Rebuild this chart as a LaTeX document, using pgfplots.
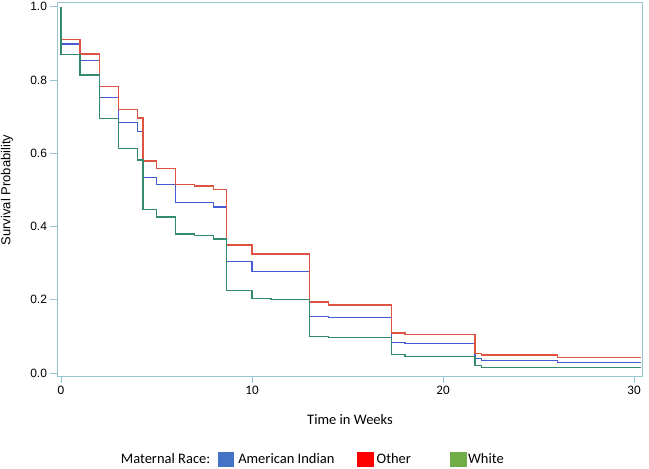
\documentclass[border=0pt]{standalone}
\usepackage{pgfplots}
\pgfplotsset{compat=1.18}
\usepackage{fontspec}
\setmainfont{Carlito}
\newfontfamily\arial{Liberation Sans}

\definecolor{framec}{RGB}{150,196,208}
\definecolor{kmred}{RGB}{222,84,66}
\definecolor{kmblue}{RGB}{70,92,212}
\definecolor{kmgreen}{RGB}{52,138,112}
\definecolor{legblue}{RGB}{68,114,196}
\definecolor{legred}{RGB}{255,0,0}
\definecolor{leggreen}{RGB}{112,173,71}

\begin{document}
\begin{tikzpicture}[x=1pt,y=1pt]
\useasboundingbox (0,0) rectangle (649,469);
\begin{axis}[
  at={(57.5pt,93pt)}, anchor=south west, scale only axis,
  width=584.8pt, height=374pt,
  xmin=-0.183, xmax=30.43, ymin=-0.008, ymax=1.013,
  axis line style={framec, line width=0.9pt},
  tick style={framec, line width=0.9pt},
  tick align=outside, tick pos=left, major tick length=7pt,
  xtick={0,10,20,30}, ytick={0,0.2,0.4,0.6,0.8,1},
  /pgf/number format/assume math mode=true,
  yticklabel style={font=\arial\fontsize{12}{14}\selectfont,
    /pgf/number format/fixed, /pgf/number format/fixed zerofill,
    /pgf/number format/precision=1},
  xticklabel style={font=\fontsize{13}{15}\selectfont},
  legend columns=-1,
  legend style={at={(0.108,-0.222)}, anchor=west, draw=none, fill=none,
    inner sep=0pt, column sep=0pt,
    nodes={inner sep=0pt, font=\fontsize{14.5}{17}\selectfont}},
]
% survival curves (Kaplan-Meier steps)
\addplot[const plot, kmblue, line width=1.3pt, forget plot] coordinates {
 (0,1) (0,0.898) (1,0.854) (2,0.753) (3,0.684) (4,0.659) (4.3,0.533)
 (5,0.514) (6,0.465) (8,0.453) (8.68,0.304) (10,0.277) (13,0.154)
 (14,0.151) (17.3,0.083) (18,0.080) (21.67,0.039) (22,0.035)
 (26,0.029) (30.35,0.029)};
\addplot[const plot, kmred, line width=1.3pt, forget plot] coordinates {
 (0,1) (0,0.911) (1,0.871) (2,0.782) (3,0.720) (4,0.696) (4.3,0.579)
 (5,0.559) (6,0.514) (7,0.511) (8,0.502) (8.68,0.350) (10,0.325)
 (13,0.194) (14,0.186) (17.3,0.109) (18,0.106) (21.67,0.053)
 (22,0.049) (26,0.043) (30.35,0.043)};
\addplot[const plot, kmgreen, line width=1.3pt, forget plot] coordinates {
 (0,1) (0,0.870) (1,0.814) (2,0.695) (3,0.614) (4,0.582) (4.3,0.447)
 (5,0.426) (6,0.380) (7,0.376) (8,0.366) (8.68,0.225) (10,0.203)
 (11,0.200) (13,0.100) (14,0.097) (17.3,0.050) (18,0.046)
 (21.67,0.020) (22,0.016) (26,0.015) (30.35,0.015)};

\addlegendimage{legend image code/.code={}}
\addlegendentry{\makebox[97pt][l]{Maternal Race:}}
\addlegendimage{legend image code/.code={
  \fill[legblue] (0pt,-7pt) rectangle (15pt,7pt);}}
\addlegendentry{\makebox[124pt][l]{\hspace{5pt}American Indian}}
\addlegendimage{legend image code/.code={
  \fill[legred] (0pt,-7pt) rectangle (16pt,7pt);}}
\addlegendentry{\makebox[76pt][l]{\hspace{3pt}Other}}
\addlegendimage{legend image code/.code={
  \fill[leggreen] (0pt,-7pt) rectangle (16pt,7pt);}}
\addlegendentry{\makebox[40pt][l]{\hspace{2pt}White}}
\end{axis}
\node at (350,49) {\fontsize{14.5}{17}\selectfont Time in Weeks};
\node[rotate=90] at (7,279) {\arial\fontsize{13}{15}\selectfont Survival Probability};
\end{tikzpicture}
\end{document}
